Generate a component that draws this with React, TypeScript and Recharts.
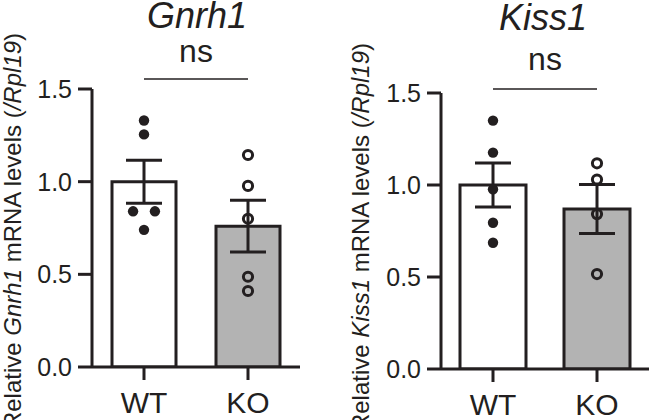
import React from 'react';
import { ComposedChart, Bar, Cell, XAxis, YAxis, Scatter, ErrorBar, ReferenceLine } from 'recharts';

const groups = ['WT', 'KO'];
const yTicks = [0, 0.5, 1.0, 1.5];

const gnrh1Mean = [1.0, 0.76];
const gnrh1Sem = [0.116, 0.14];
const gnrh1WT = [1.33, 1.255, 0.84, 0.84, 0.74];
const gnrh1WTJitter = [0, 0, -1, 1, 0];
const gnrh1KO = [1.144, 0.977, 0.8, 0.487, 0.41];
const gnrh1KOJitter = [0, 0, 0, 0, 0];

const kiss1Mean = [1.0, 0.87];
const kiss1Sem = [0.12, 0.133];
const kiss1WT = [1.35, 1.176, 0.977, 0.795, 0.686];
const kiss1WTJitter = [0, 0, 0, 0, 0];
const kiss1KO = [1.118, 1.03, 0.842, 0.516];
const kiss1KOJitter = [0, 0, 0, 0];

const INK = '#231f20';
const GRAY = '#b3b3b3';
const FONT = '"Liberation Sans", Arial, Helvetica, sans-serif';

const FilledDot = (p: any) => <circle cx={p.cx} cy={p.cy} r={5.2} fill={INK} />;
const OpenDot = (p: any) => (
  <circle cx={p.cx} cy={p.cy} r={4.6} fill="none" stroke={INK} strokeWidth={3} />
);

type PanelProps = {
  mean: number[];
  sem: number[];
  wt: number[];
  wtJ: number[];
  ko: number[];
  koJ: number[];
  width: number;
  top: number;
  right: number;
  yAxisWidth: number;
  xAxisHeight: number;
  barSize: number;
  nsY: number;
  nsOffset: number;
};

function Panel(props: PanelProps) {
  const data = groups.map((g, i) => ({ group: g, mean: props.mean[i], sem: props.sem[i] }));
  const wtPts = props.wt.map((v, i) => ({ x: 0 + props.wtJ[i] * 0.105, y: v }));
  const koPts = props.ko.map((v, i) => ({ x: 1 + props.koJ[i] * 0.105, y: v }));
  return (
    <ComposedChart
      width={props.width}
      height={420}
      data={data}
      margin={{ top: props.top, right: props.right, bottom: 0, left: 0 }}
    >
      <XAxis
        xAxisId="cat"
        dataKey="group"
        type="category"
        height={props.xAxisHeight}
        tickSize={13}
        tickMargin={12}
        tick={{ fill: INK, fontSize: 30 }}
        axisLine={{ stroke: INK, strokeWidth: 3 }}
        tickLine={{ stroke: INK, strokeWidth: 3 }}
      />
      <XAxis xAxisId="pts" type="number" dataKey="x" domain={[-0.5, 1.5]} hide allowDataOverflow />
      <YAxis
        domain={[0, 1.5]}
        ticks={yTicks}
        allowDataOverflow
        tickFormatter={(v: number) => v.toFixed(1)}
        width={props.yAxisWidth}
        tickSize={14}
        tickMargin={6}
        tick={{ fill: INK, fontSize: 25 }}
        axisLine={{ stroke: INK, strokeWidth: 3 }}
        tickLine={{ stroke: INK, strokeWidth: 3 }}
      />
      <Bar xAxisId="cat" dataKey="mean" barSize={props.barSize} stroke={INK} strokeWidth={3} isAnimationActive={false}>
        {data.map((d, i) => (
          <Cell key={d.group} fill={i === 0 ? '#ffffff' : GRAY} />
        ))}
        <ErrorBar dataKey="sem" width={18} stroke={INK} strokeWidth={3} direction="y" />
      </Bar>
      <Scatter xAxisId="pts" data={wtPts} dataKey="y" shape={FilledDot} isAnimationActive={false} />
      <Scatter xAxisId="pts" data={koPts} dataKey="y" shape={OpenDot} isAnimationActive={false} />
      <ReferenceLine
        xAxisId="pts"
        segment={[
          { x: 0, y: props.nsY },
          { x: 1, y: props.nsY },
        ]}
        ifOverflow="visible"
        stroke={INK}
        strokeWidth={1.5}
        label={{ value: 'ns', position: 'top', offset: props.nsOffset, fontSize: 32, fill: INK }}
      />
    </ComposedChart>
  );
}

export default function App() {
  return (
    <div
      style={{
        position: 'absolute',
        left: 0,
        top: 0,
        width: 649,
        height: 420,
        background: '#ffffff',
        fontFamily: FONT,
        overflow: 'hidden',
      }}
    >
      <div style={{ position: 'absolute', left: 0, top: 0 }}>
        <Panel
          mean={gnrh1Mean}
          sem={gnrh1Sem}
          wt={gnrh1WT}
          wtJ={gnrh1WTJitter}
          ko={gnrh1KO}
          koJ={gnrh1KOJitter}
          width={325}
          top={89}
          right={25}
          yAxisWidth={92}
          xAxisHeight={53}
          barSize={64}
          nsY={1.554}
          nsOffset={17}
        />
      </div>
      <div style={{ position: 'absolute', left: 325, top: 0 }}>
        <Panel
          mean={kiss1Mean}
          sem={kiss1Sem}
          wt={kiss1WT}
          wtJ={kiss1WTJitter}
          ko={kiss1KO}
          koJ={kiss1KOJitter}
          width={324}
          top={93}
          right={0}
          yAxisWidth={116}
          xAxisHeight={51}
          barSize={66}
          nsY={1.522}
          nsOffset={19}
        />
      </div>
      <svg
        width={649}
        height={420}
        style={{ position: 'absolute', left: 0, top: 0, pointerEvents: 'none' }}
      >
        <text x={197} y={28} textAnchor="middle" fontSize={36} fontStyle="italic" fill={INK}>
          Gnrh1
        </text>
        <text x={543} y={30} textAnchor="middle" fontSize={36} fontStyle="italic" fill={INK}>
          Kiss1
        </text>
        <text transform="translate(21,231) rotate(-90)" textAnchor="middle" fontSize={24} fill={INK}>
          Relative <tspan fontStyle="italic">Gnrh1</tspan> mRNA levels (<tspan fontStyle="italic">/Rpl19</tspan>)
        </text>
        <text transform="translate(369,237) rotate(-90)" textAnchor="middle" fontSize={24} fill={INK}>
          Relative <tspan fontStyle="italic">Kiss1</tspan> mRNA levels (<tspan fontStyle="italic">/Rpl19</tspan>)
        </text>
      </svg>
    </div>
  );
}
